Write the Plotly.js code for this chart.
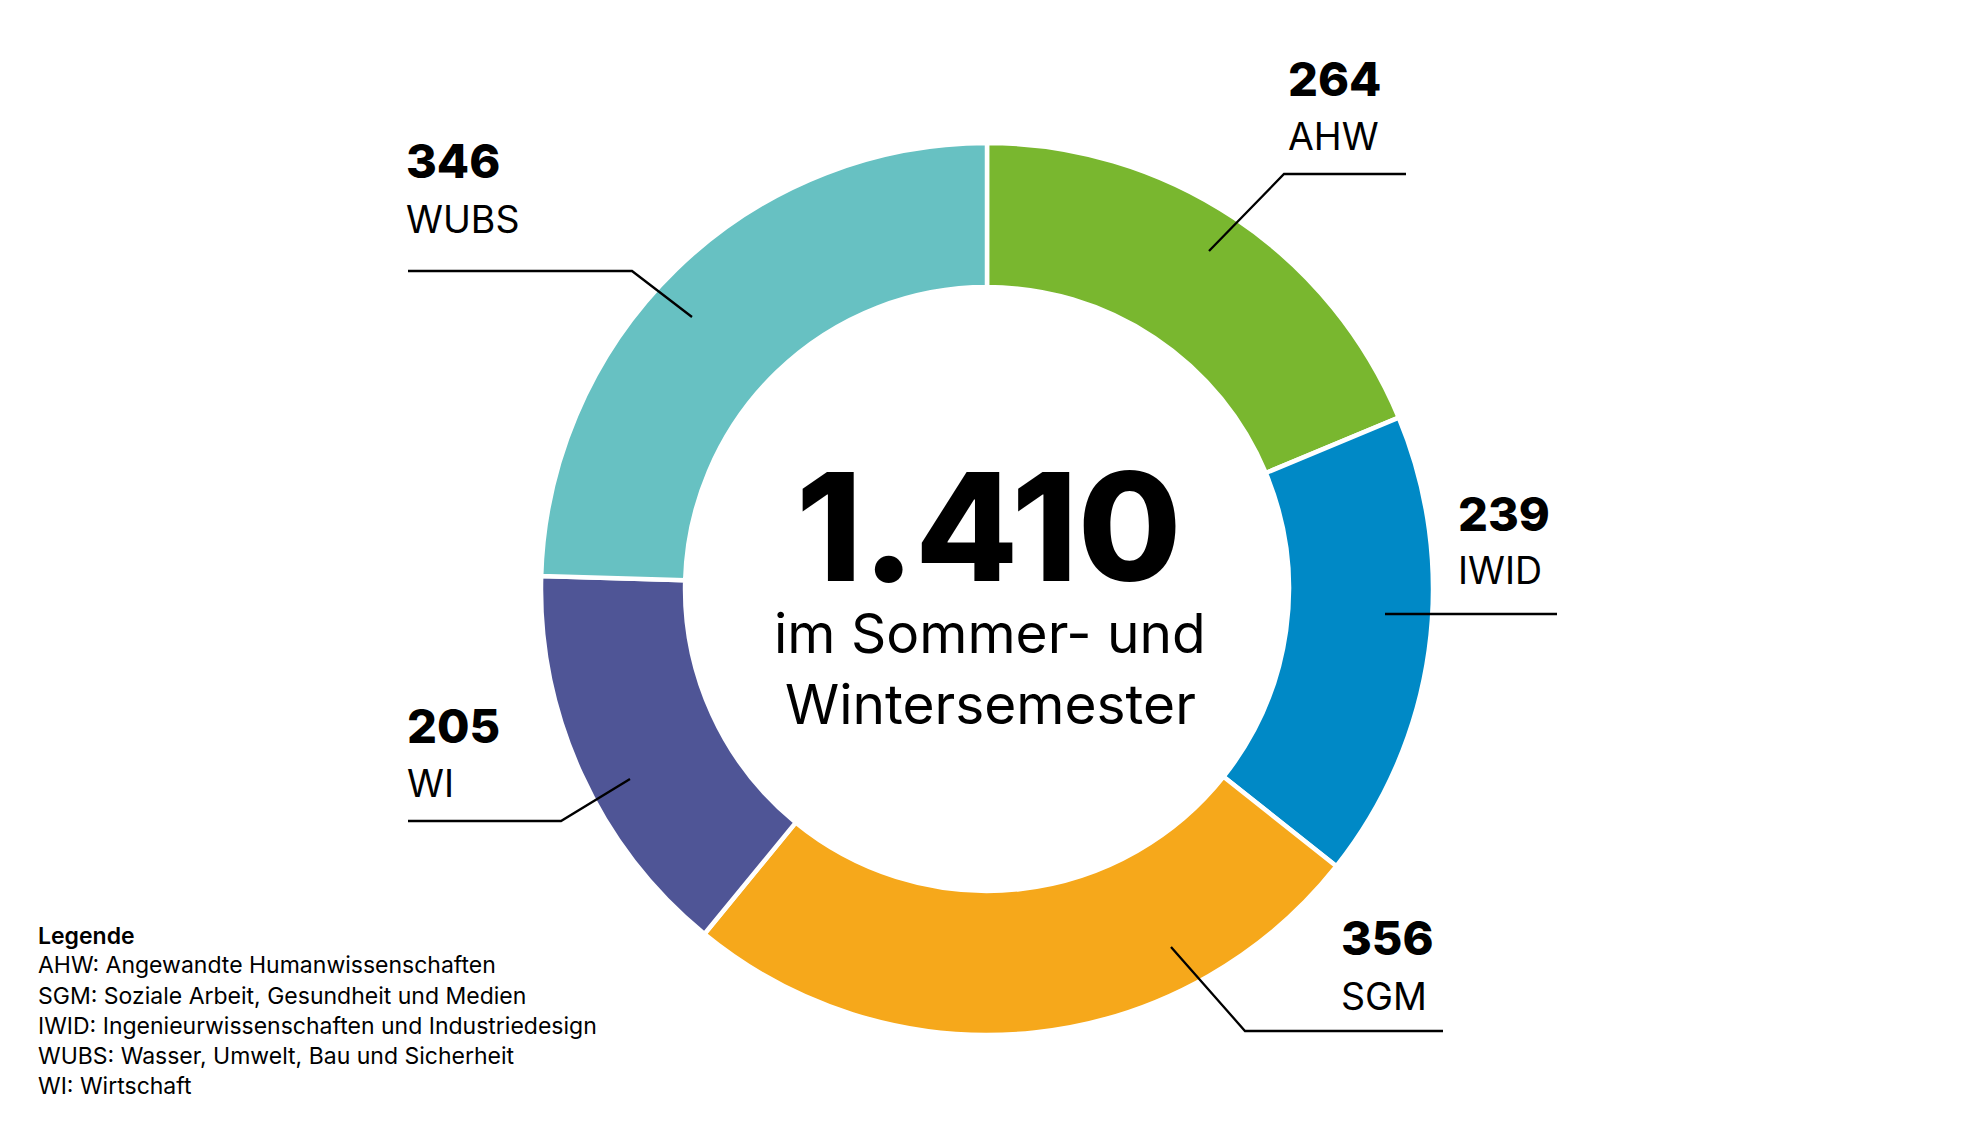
<!DOCTYPE html>
<html>
<head>
<meta charset="utf-8">
<script src="https://cdn.plot.ly/plotly-3.0.1.min.js"></script>
<style>
html,body{margin:0;padding:0;background:#fff;}
#chart{width:1969px;height:1142px;}
</style>
</head>
<body>
<div id="chart"></div>
<script>
// ---- data ----
const codes = ['AHW', 'IWID', 'SGM', 'WI', 'WUBS'];
const values = [264, 239, 356, 205, 346];
const fullNames = [
  'Angewandte Humanwissenschaften',
  'Soziale Arbeit, Gesundheit und Medien',
  'Ingenieurwissenschaften und Industriedesign',
  'Wasser, Umwelt, Bau und Sicherheit',
  'Wirtschaft'
];
const legendCodes = ['AHW', 'SGM', 'IWID', 'WUBS', 'WI'];
const colors = ['#79B72F', '#0089C6', '#F6A81B', '#4F5596', '#67C1C2'];
const centerSubtitle = ['im Sommer- und', 'Wintersemester'];
const legendTitle = 'Legende';

// ---- layout helpers ----
const W = 1969, H = 1142;
const px = x => x / W;
const py = y => 1 - y / H;

const total = values.reduce((a, b) => a + b, 0);
const totalText = total.toLocaleString('de-DE');

const FONT = 'Inter, "Noto Sans", "Liberation Sans", sans-serif';

// label positions (pixel) per code
const labelPos = {
  AHW:  {x: 1287, num: 78.5, name: 136.5, path: [[1209,251],[1284,174],[1406,174]]},
  IWID: {x: 1457, num: 513.5, name: 570, path: [[1385,614],[1557,614]]},
  SGM:  {x: 1340, num: 937, name: 996, path: [[1171,947],[1245,1031],[1443,1031]]},
  WI:   {x: 406, num: 725.5, name: 784, path: [[630,779],[561,821],[408,821]]},
  WUBS: {x: 405, num: 160, name: 219.5, path: [[692,317],[632,271],[408,271]]}
};

const annotations = [];
const shapes = [];

codes.forEach((c, i) => {
  const p = labelPos[c];
  annotations.push({
    xref: 'paper', yref: 'paper', x: px(p.x), y: py(p.num),
    xanchor: 'left', yanchor: 'middle', showarrow: false, borderpad: 0,
    text: String(values[i]),
    font: {family: FONT, size: 47, color: '#000', weight: 800}
  });
  annotations.push({
    xref: 'paper', yref: 'paper', x: px(p.x), y: py(p.name),
    xanchor: 'left', yanchor: 'middle', showarrow: false, borderpad: 0,
    text: c,
    font: {family: FONT, size: 37.5, color: '#000', weight: 400}
  });
  const d = p.path.map((pt, k) => (k === 0 ? 'M' : 'L') + px(pt[0]) + ',' + py(pt[1])).join(' ');
  shapes.push({
    type: 'path', xref: 'paper', yref: 'paper', path: d,
    line: {color: '#000', width: 2.3}
  });
});

// center text
annotations.push({
  xref: 'paper', yref: 'paper', x: px(989), y: py(526.5),
  xanchor: 'center', yanchor: 'middle', showarrow: false, borderpad: 0,
  text: totalText,
  font: {family: FONT, size: 150, color: '#000', weight: 800}
});
const subY = [632.5, 704];
centerSubtitle.forEach((t, k) => {
  annotations.push({
    xref: 'paper', yref: 'paper', x: px(990), y: py(subY[k]),
    xanchor: 'center', yanchor: 'middle', showarrow: false, borderpad: 0,
    text: t,
    font: {family: FONT, size: 55, color: '#000', weight: 400}
  });
});

// legend block
const LX = 37;
annotations.push({
  xref: 'paper', yref: 'paper', x: px(LX), y: py(935.5),
  xanchor: 'left', yanchor: 'middle', showarrow: false, borderpad: 0,
  text: legendTitle,
  font: {family: FONT, size: 23, color: '#000', weight: 600}
});
const legendY = [965, 995.5, 1026, 1056, 1086];
legendCodes.forEach((c, k) => {
  annotations.push({
    xref: 'paper', yref: 'paper', x: px(LX), y: py(legendY[k]),
    xanchor: 'left', yanchor: 'middle', showarrow: false, borderpad: 0,
    text: c + ': ' + fullNames[k],
    font: {family: FONT, size: 23, color: '#000', weight: 400}
  });
});

const R = 446, cx = 987, cy = 589;
const trace = {
  type: 'pie',
  labels: codes,
  values: values,
  sort: false,
  direction: 'clockwise',
  rotation: 0,
  hole: 0.677,
  textinfo: 'none',
  hoverinfo: 'label+value',
  marker: {colors: colors, line: {color: '#fff', width: 4.5}},
  domain: {x: [px(cx - R), px(cx + R)], y: [py(cy + R), py(cy - R)]},
  showlegend: false
};

const layout = {
  width: W, height: H,
  margin: {l: 0, r: 0, t: 0, b: 0},
  paper_bgcolor: '#fff',
  plot_bgcolor: '#fff',
  showlegend: false,
  annotations: annotations,
  shapes: shapes,
  font: {family: FONT}
};

Plotly.newPlot('chart', [trace], layout, {displayModeBar: false, staticPlot: true});
</script>
</body>
</html>
